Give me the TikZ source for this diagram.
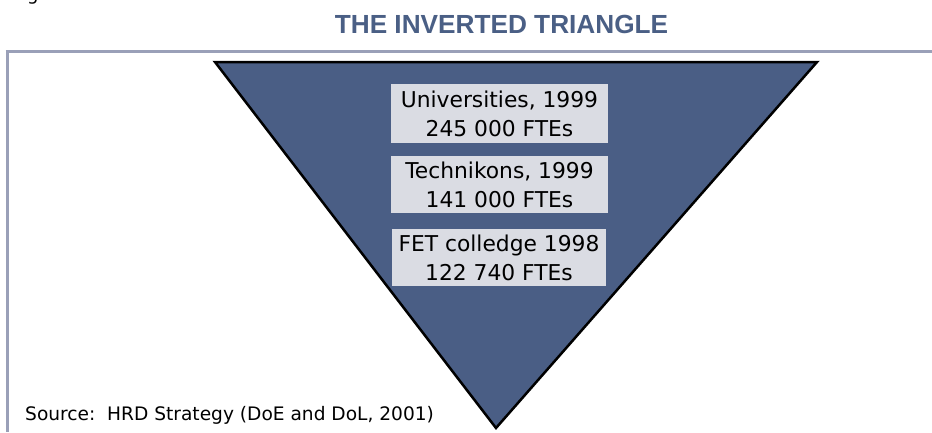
\documentclass[tikz,border=0pt]{standalone}
\usepackage{fontspec}
\newfontfamily\labelfont{DejaVu Sans}
\newfontfamily\headfont{Liberation Sans}
\definecolor{wedgeblue}{HTML}{4A5E85}
\definecolor{panelgray}{HTML}{DADCE3}
\definecolor{framegray}{HTML}{9AA0B8}
\definecolor{headblue}{HTML}{4A5F85}
\tikzset{
  tierbox/.style={fill=panelgray, inner sep=0pt, align=center,
    font=\labelfont\fontsize{21.8}{29}\selectfont},
  framestroke/.style={draw=framegray, line width=3pt},
  wedge/.style={fill=wedgeblue, draw=black, line width=2.5pt, line join=miter}
}
\begin{document}
\begin{tikzpicture}[x=1pt, y=-1pt]
  \useasboundingbox (0,0) rectangle (932,432);
  \begin{scope}
    \clip (0,0) rectangle (932,432);
    % caption fragment at the top edge
    \node[anchor=base west, inner sep=0pt, font=\labelfont\fontsize{18}{20}\selectfont] (capfrag) at (27,0.5) {g};
  \end{scope}

  % heading
  \node[anchor=base, inner sep=0pt, text=headblue,
        font=\headfont\bfseries\fontsize{26.2}{28}\selectfont] (title) at (501.5,33) {THE INVERTED TRIANGLE};

  % frame lines
  \coordinate (frameTL) at (7,51.5);
  \draw[framestroke] (5.5,51.5) -- (932,51.5);
  \draw[framestroke] (frameTL) -- (7,432);

  % inverted triangle
  \coordinate (triL) at (215,62);
  \coordinate (triR) at (817,62);
  \coordinate (triB) at (496,428);
  \draw[wedge] (triL) -- (triR) -- (triB) -- cycle;

  % tier labels
  \node[tierbox, minimum width=217pt, minimum height=59pt] (uni) at (499.5,113.5)
    {Universities, 1999\\245 000 FTEs};
  \node[tierbox, minimum width=217pt, minimum height=57pt] (tech) at (499.5,184.5)
    {Technikons, 1999\\141 000 FTEs};
  \node[tierbox, minimum width=214pt, minimum height=57pt] (fet) at (499,257.5)
    {FET colledge 1998\\122 740 FTEs};

  % source note
  \node[anchor=base west, inner sep=0pt, font=\labelfont\fontsize{18.6}{22}\selectfont] (source) at (25,420)
    {Source:\ \ HRD Strategy (DoE and DoL, 2001)};
\end{tikzpicture}
\end{document}
